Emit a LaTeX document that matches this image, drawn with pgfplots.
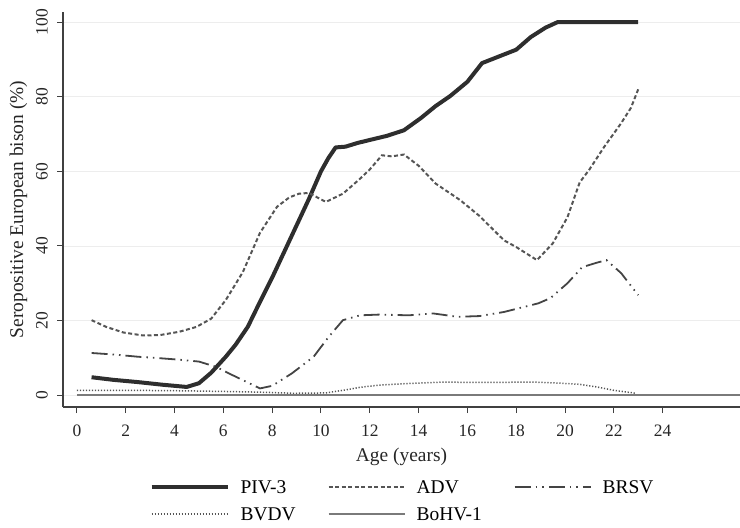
\documentclass[border=0pt]{standalone}
\usepackage{pgfplots}
\pgfplotsset{compat=1.18}
\usepackage{fontspec}
\setmainfont{Liberation Serif}

\definecolor{cPIV}{HTML}{2E2E2E}
\definecolor{cADV}{HTML}{555555}
\definecolor{cBRSV}{HTML}{444444}
\definecolor{cBVDV}{HTML}{555555}
\definecolor{cBoHV}{HTML}{7A7A7A}
\definecolor{caxis}{HTML}{404040}

\begin{document}
\begin{tikzpicture}
\begin{axis}[
    name=ax,
    x=24.4bp, y=3.73bp,
    xmin=-0.57, xmax=27.17,
    ymin=-3.2, ymax=102.7,
    axis x line*=bottom, axis y line*=left,
    axis line style={-, caxis, line width=1.2bp},
    tick align=outside,
    major tick length=6bp,
    tick style={caxis, line width=1bp},
    xtick={0,2,...,24},
    ytick={0,20,...,100},
    ymajorgrids,
    major grid style={black!7, line width=0.8bp},
    /pgf/number format/assume math mode=true,
    ticklabel style={font=\fontsize{17.5}{19}\selectfont, text=black!85},
    xticklabel style={inner sep=0pt, yshift=-12bp},
    yticklabel style={rotate=90, anchor=south, inner sep=0pt, yshift=9bp},
    xlabel={Age (years)},
    ylabel={Seropositive European bison (\%)},
    label style={font=\fontsize{19.5}{22}\selectfont, text=black!85},
    xlabel style={at={(axis description cs:0.5,-0.103)}, anchor=north, inner sep=0pt},
    ylabel style={at={(axis description cs:-0.066,0.5)}, anchor=center, inner sep=0pt},
    legend columns=3,
    legend style={
        at={(axis description cs:0.5,-0.183)}, anchor=north,
        draw=none, fill=none, inner sep=0pt,
        font=\fontsize{19.5}{22}\selectfont,
        nodes={inner sep=0pt, text height=14bp, text depth=3bp},
        row sep=10bp,
        /tikz/every odd column/.append style={column sep=11bp},
        /tikz/every even column/.append style={column sep=32bp},
    },
    legend cell align=left,
    legend image code/.code={\draw[#1] (0bp,1bp) -- (76bp,1bp);},
]

% PIV-3
\addplot[cPIV, line width=4bp, line join=round] coordinates {
    (0.6,4.8) (1.5,4.1) (2.5,3.5) (3.5,2.8) (4.5,2.2) (5.0,3.2) (5.5,6.0)
    (6.1,10.3) (6.5,13.5) (7.0,18.3) (7.5,25.0) (8.0,31.5) (8.5,38.5)
    (9.0,45.5) (9.5,52.5) (10.0,60.0) (10.3,63.5) (10.6,66.4) (11.0,66.6)
    (11.5,67.6) (12.0,68.4) (12.7,69.5) (13.4,71.0) (14.1,74.3) (14.7,77.5)
    (15.3,80.2) (16.0,84.0) (16.6,89.0) (17.3,90.8) (18.0,92.6) (18.6,96.0)
    (19.2,98.5) (19.7,100) (23.0,100)
};
\addlegendentry{PIV-3}

% ADV
\addplot[cADV, line width=2bp, dash pattern=on 4bp off 2.5bp] coordinates {
    (0.6,20.1) (1.2,18.3) (1.9,16.8) (2.7,16.0) (3.4,16.1) (4.2,17.0)
    (4.9,18.3) (5.5,20.5) (6.1,25.5) (6.8,33) (7.5,43.5) (8.2,50.5)
    (8.7,53) (9.1,54) (9.5,54.2) (10.2,51.8) (10.9,54) (11.6,58) (12.0,60.5)
    (12.5,64.3) (12.9,64.0) (13.4,64.5) (14.0,61.5) (14.7,56.7) (15.7,52.3)
    (16.5,48) (17.5,41.5) (18.0,39.7) (18.85,36.2) (19.5,40.7) (20.1,47.7)
    (20.6,57) (21.0,60.5) (21.6,66.5) (22.3,72.9) (22.7,77) (23.0,82)
};
\addlegendentry{ADV}

% BRSV
\addplot[cBRSV, line width=1.8bp,
    dash pattern=on 16bp off 5bp on 1.5bp off 5bp on 1.5bp off 5bp] coordinates {
    (0.6,11.3) (1.5,10.9) (2.5,10.3) (3.4,9.9) (4.2,9.5) (5.0,9.0) (5.7,7.6)
    (6.3,5.6) (7.0,3.4) (7.5,1.8) (8.0,2.5) (8.8,5.8) (9.7,10.3) (10.3,15.5)
    (10.9,20.1) (11.6,21.4) (12.4,21.6) (13.6,21.4) (14.6,21.9) (15.6,21.0)
    (16.5,21.2) (17.5,22.3) (18.9,24.6) (19.4,26) (20.1,30) (20.7,34.3)
    (21.3,35.5) (21.7,36.2) (22.3,32.7) (23.0,26.8)
};
\addlegendentry{BRSV}

% BVDV
\addplot[cBVDV, line width=1.5bp, dash pattern=on 1.2bp off 1.8bp] coordinates {
    (0,1.3) (2,1.3) (4,1.2) (6,1.0) (7.5,0.8) (8.9,0.5) (10.2,0.6) (11.0,1.4)
    (11.6,2.1) (12.4,2.7) (13.5,3.1) (15,3.5) (16.5,3.4) (18.7,3.5) (19.8,3.2)
    (20.6,2.9) (21.3,2.2) (22,1.3) (22.9,0.5)
};
\addlegendentry{BVDV}

% BoHV-1
\addplot[cBoHV, line width=2bp] coordinates {
    (0,0) (27.17,0)
};
\addlegendentry{BoHV-1}

\end{axis}
\pgfresetboundingbox
\path ([xshift=-63bp,yshift=-120bp]ax.south west) rectangle ([yshift=12bp]ax.north east);
\end{tikzpicture}
\end{document}
